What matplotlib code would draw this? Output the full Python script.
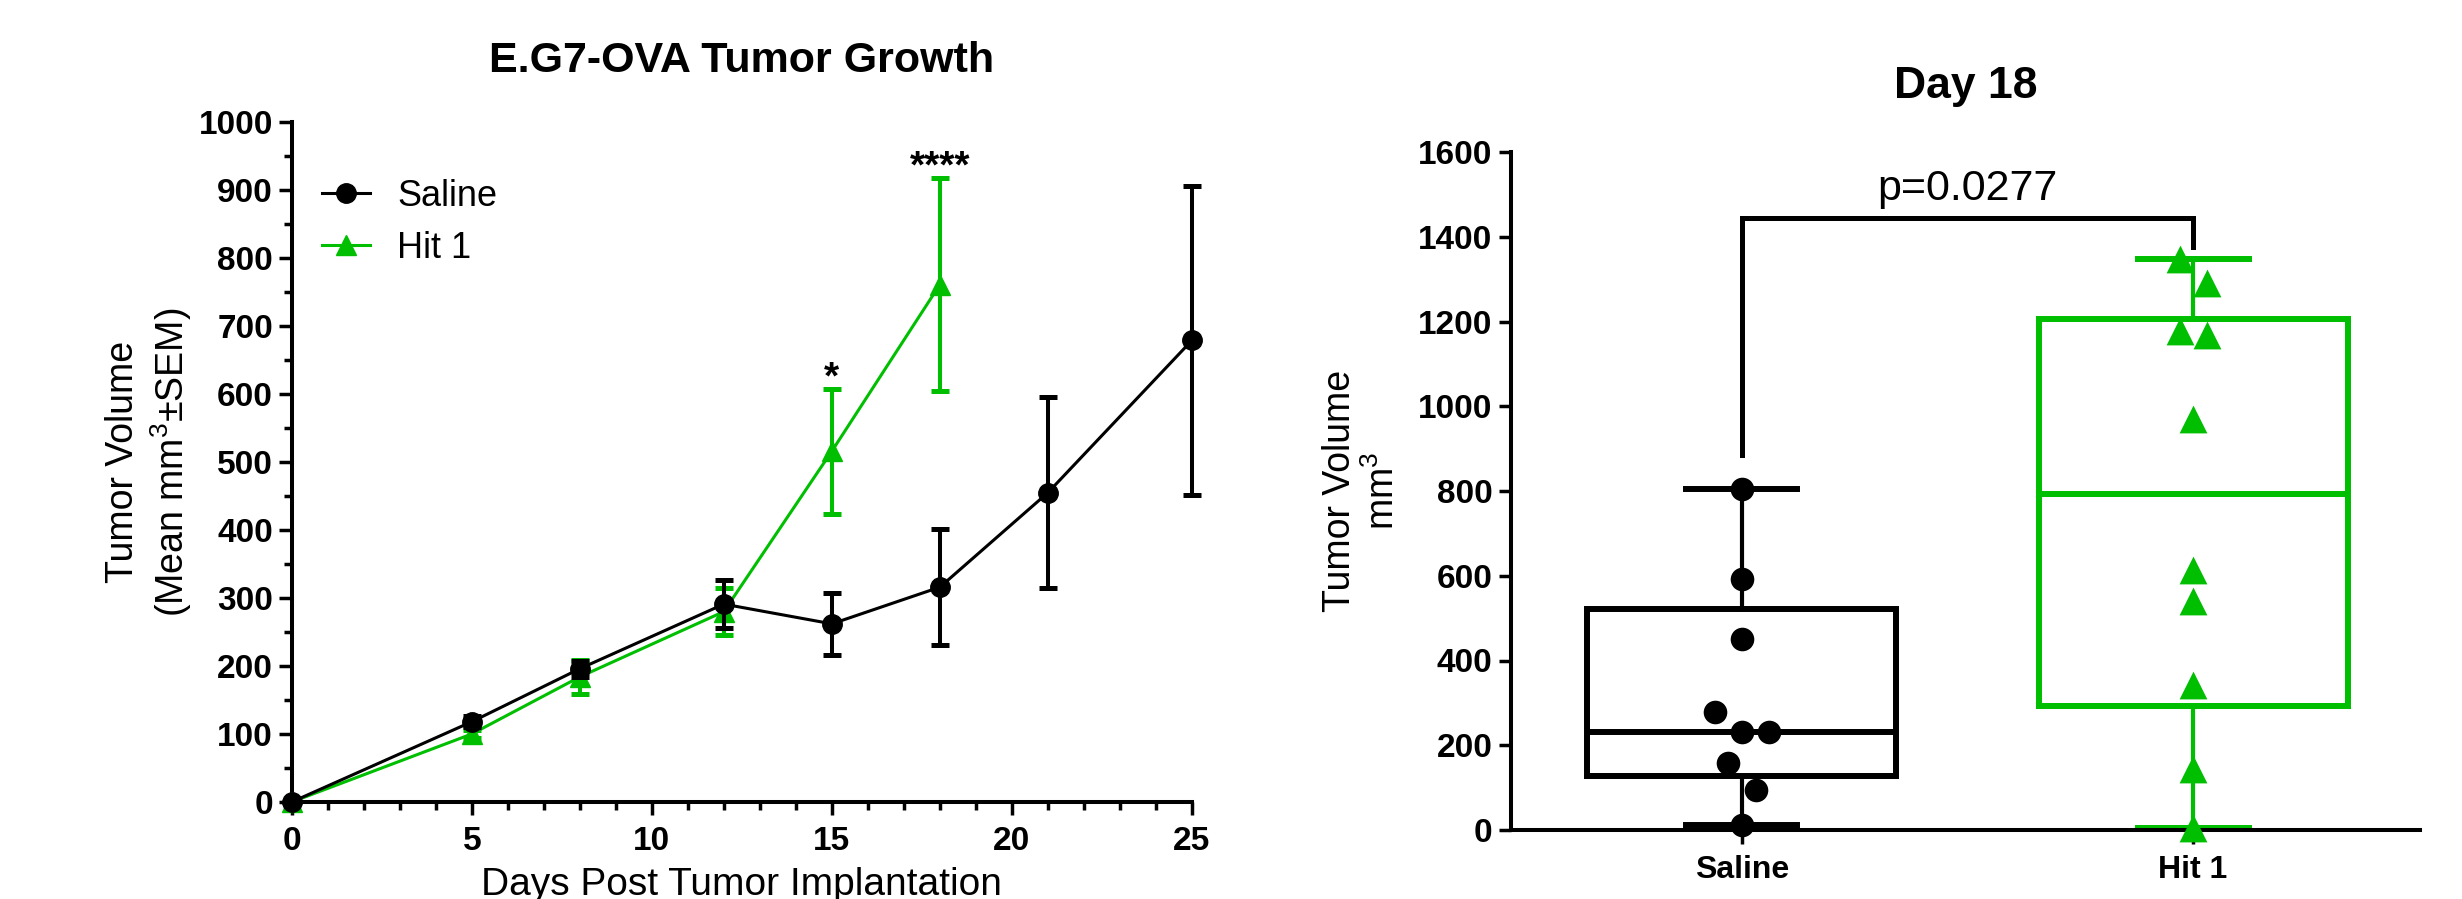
import numpy as np
import matplotlib
matplotlib.use("Agg")
import matplotlib.pyplot as plt
from matplotlib.ticker import MultipleLocator
from matplotlib.lines import Line2D

# ---------------- data ----------------
days = [0, 5, 8, 12, 15, 18, 21, 25]
saline_mean = [0, 118, 196, 291, 262, 316, 455, 679]
saline_sem = [0, 8, 12, 35, 46, 85, 140, 227]

hit1_days = [0, 5, 8, 12, 15, 18]
hit1_mean = [0, 100, 184, 280, 516, 761]
hit1_sem = [0, 6, 25, 35, 92, 157]

sig_days = [15, 18]
sig_labels = ["*", "****"]

groups = ["Saline", "Hit 1"]
saline_day18 = [805, 592, 451, 278, 232, 232, 158, 95, 12]
hit1_day18 = [1347, 1290, 1178, 1168, 971, 613, 540, 342, 144, 5]
p_label = "p=0.0277"

# ---------------- style ----------------
GREEN = "#00BF00"
BLACK = "#000000"
plt.rcParams["font.family"] = ["Liberation Sans", "DejaVu Sans"]
plt.rcParams["mathtext.fontset"] = "custom"
plt.rcParams["mathtext.rm"] = "Liberation Sans"
plt.rcParams["mathtext.it"] = "Liberation Sans"

fig = plt.figure(figsize=(24.62, 8.99), dpi=100)
W, H = 2462, 899


def frac_rect(x0, x1, y_top, y_bot):
    return [x0 / W, 1 - y_bot / H, (x1 - x0) / W, (y_bot - y_top) / H]


# ================= left panel =================
ax = fig.add_axes(frac_rect(291.7, 1192, 122, 802))
ax.set_xlim(0, 25)
ax.set_ylim(0, 1000)

ax.errorbar(hit1_days, hit1_mean, yerr=hit1_sem, color=GREEN, lw=2.2,
            marker="^", ms=14, mec=GREEN, mfc=GREEN, elinewidth=2.9,
            capsize=6.5, capthick=3.6, clip_on=False, zorder=3)
ax.errorbar(days, saline_mean, yerr=saline_sem, color=BLACK, lw=2.2,
            marker="o", ms=14, mec=BLACK, mfc=BLACK, elinewidth=2.9,
            capsize=6.5, capthick=3.6, clip_on=False, zorder=4)

for d, lab in zip(sig_days, sig_labels):
    i = hit1_days.index(d)
    ax.annotate(lab, xy=(d, hit1_mean[i] + hit1_sem[i]), xytext=(0, 0),
                textcoords="offset points", ha="center", va="baseline",
                fontsize=28, fontweight="bold")

for side in ["top", "right"]:
    ax.spines[side].set_visible(False)
for side in ["left", "bottom"]:
    ax.spines[side].set_linewidth(2.9)

ax.xaxis.set_major_locator(MultipleLocator(5))
ax.xaxis.set_minor_locator(MultipleLocator(1))
ax.yaxis.set_major_locator(MultipleLocator(100))
ax.yaxis.set_minor_locator(MultipleLocator(50))
ax.tick_params(which="major", length=9.5, width=2.5, labelsize=24, pad=4)
ax.tick_params(which="minor", length=6, width=2.5)
ax.tick_params(axis="x", which="major", pad=8)
for t in ax.get_xticklabels() + ax.get_yticklabels():
    t.set_fontweight("bold")

ax.set_title("E.G7-OVA Tumor Growth", fontsize=31, fontweight="bold", pad=36)
ax.set_xlabel("Days Post Tumor Implantation", fontsize=28)
ax.xaxis.set_label_coords(0.5, -0.095)
ax.set_ylabel("Tumor Volume\n(Mean mm$^3$±SEM)", fontsize=27, linespacing=1.2)
ax.yaxis.set_label_coords(-0.109, 0.5)

legend_handles = [
    Line2D([], [], color=BLACK, lw=2.2, marker="o", ms=14),
    Line2D([], [], color=GREEN, lw=2.2, marker="^", ms=14),
]
ax.legend(legend_handles, groups, loc="upper left",
          bbox_to_anchor=(0.034, 0.916), frameon=False, fontsize=26,
          handlelength=1.33, handletextpad=0.75, labelspacing=0.47,
          borderpad=0, borderaxespad=0)

# ================= right panel =================
bx = fig.add_axes(frac_rect(1511, 2420, 152, 830))
bx.set_xlim(-0.512, 1.503)
bx.set_ylim(0, 1600)


def box_stats(vals):
    v = np.asarray(vals, dtype=float)
    q1, med, q3 = np.percentile(v, [25, 50, 75], method="weibull")
    return dict(med=med, q1=q1, q3=q3, whislo=v.min(), whishi=v.max(), fliers=[])


def row_offsets(vals, threshold, step):
    v = np.asarray(vals, dtype=float)
    order = np.argsort(v)
    offs = np.zeros(len(v))
    rows, cur = [], [order[0]]
    for i in order[1:]:
        if v[i] - v[cur[0]] <= threshold:
            cur.append(i)
        else:
            rows.append(cur)
            cur = [i]
    rows.append(cur)
    for r in rows:
        r = sorted(r, key=lambda k: -v[k])
        n = len(r)
        for k, i in enumerate(r):
            offs[i] = (k - (n - 1) / 2) * step
    return offs


data = [saline_day18, hit1_day18]
colors = [BLACK, GREEN]
markers = ["o", "^"]
msizes = [17 ** 2, 20 ** 2]
stats = [box_stats(d) for d in data]
res = bx.bxp(stats, positions=[0, 1], widths=0.685, capwidths=0.246,
             showfliers=False, patch_artist=False, zorder=2)
for i, c in enumerate(colors):
    res["boxes"][i].set(color=c, linewidth=4.3, solid_joinstyle="miter")
    res["medians"][i].set(color=c, linewidth=4.3)
    for w in res["whiskers"][2 * i:2 * i + 2]:
        w.set(color=c, linewidth=3.0)
    for cp in res["caps"][2 * i:2 * i + 2]:
        cp.set(color=c, linewidth=4.3)

for i, (d, c, m, s) in enumerate(zip(data, colors, markers, msizes)):
    off = row_offsets(d, 70, 0.06)
    bx.scatter(i + off, d, s=s, marker=m, color=c, zorder=5, clip_on=False,
               linewidths=0)

# significance bracket
bx.plot([0, 0, 1, 1], [885, 1445, 1445, 1375], color=BLACK, lw=3.6,
        solid_joinstyle="miter", zorder=3)
bx.text(0.5, 1465, p_label, ha="center", va="bottom", fontsize=31)

for side in ["top", "right"]:
    bx.spines[side].set_visible(False)
for side in ["left", "bottom"]:
    bx.spines[side].set_linewidth(2.9)

bx.set_xticks([0, 1])
bx.set_xticklabels(groups)
bx.yaxis.set_major_locator(MultipleLocator(200))
bx.tick_params(axis="y", length=8.5, width=2.5, labelsize=24, pad=5)
bx.tick_params(axis="x", length=10, width=2.5, labelsize=23, pad=8)
for t in bx.get_xticklabels() + bx.get_yticklabels():
    t.set_fontweight("bold")

bx.set_title("Day 18", fontsize=32, fontweight="bold", pad=39)
bx.set_ylabel("Tumor Volume\nmm$^3$", fontsize=27, linespacing=1.2)
bx.yaxis.set_label_coords(-0.12, 0.5)

fig.savefig("out.png", dpi=100)
